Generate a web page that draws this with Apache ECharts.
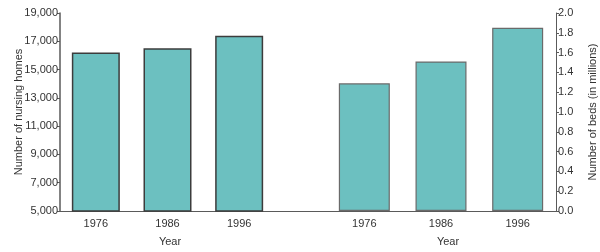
<!DOCTYPE html>
<html>
<head>
<meta charset="utf-8">
<script src="https://cdn.jsdelivr.net/npm/echarts@6/dist/echarts.min.js"></script>
<style>html,body{margin:0;padding:0;background:#fff}#c{width:600px;height:252px}</style>
</head>
<body>
<div id="c"></div>
<script>
var years = ['1976', '1986', '1996'];
var nursingHomes = [16200, 16500, 17400];
var bedsMillions = [1.29, 1.51, 1.85];
var homesTicks = {min: 5000, max: 19000, interval: 2000};
var bedsTicks = {min: 0, max: 2, interval: 0.2};

var FONT = 'Liberation Sans, Arial, sans-serif';
var AXIS = '#5a5a5a';
var FILL = '#6cc0c0';
var TOP = 13, H = 198, L1 = 60, W1 = 215, L2 = 326, W2 = 230;

var chart = echarts.init(document.getElementById('c'), null, {renderer: 'canvas'});
chart.setOption({
  animation: false,
  textStyle: {fontFamily: FONT},
  grid: [
    {left: L1, top: TOP, width: W1, height: H, outerBoundsMode: 'none', containLabel: false},
    {left: L2, top: TOP, width: W2, height: H, outerBoundsMode: 'none', containLabel: false}
  ],
  graphic: [
    {type: 'rect', silent: true, z: 100, left: L1 + W1 - 1, top: TOP + H,
      shape: {width: L2 - L1 - W1 + 2, height: 1},
      style: {fill: AXIS}}
  ],
  xAxis: [
    {gridIndex: 0, type: 'category', data: years,
      axisLine: {show: true, onZero: false, lineStyle: {color: AXIS, width: 1.2}},
      axisTick: {length: 3, lineStyle: {color: AXIS}},
      axisLabel: {color: '#333', fontSize: 11, margin: 7},
      name: 'Year', nameLocation: 'middle', nameGap: 25,
      nameTextStyle: {color: '#333', fontSize: 11, padding: [0, 0, 0, 5]}},
    {gridIndex: 1, type: 'category', data: years,
      axisLine: {show: true, onZero: false, lineStyle: {color: AXIS, width: 1.2}},
      axisTick: {length: 3, lineStyle: {color: AXIS}},
      axisLabel: {color: '#333', fontSize: 11, margin: 7},
      name: 'Year', nameLocation: 'middle', nameGap: 25,
      nameTextStyle: {color: '#333', fontSize: 11, padding: [0, 0, 0, 14]}}
  ],
  yAxis: [
    {gridIndex: 0, type: 'value', min: homesTicks.min, max: homesTicks.max, interval: homesTicks.interval,
      position: 'left',
      axisLine: {show: true, lineStyle: {color: AXIS, width: 1.5}},
      axisTick: {show: true, length: 3, lineStyle: {color: AXIS}},
      splitLine: {show: false},
      axisLabel: {color: '#333', fontSize: 11, margin: 2,
        formatter: function (v) { return v.toLocaleString('en-US'); }},
      name: 'Number of nursing homes', nameLocation: 'middle', nameGap: 36, nameMoveOverlap: false,
      nameTextStyle: {color: '#333', fontSize: 11}},
    {gridIndex: 1, type: 'value', min: bedsTicks.min, max: bedsTicks.max, interval: bedsTicks.interval,
      position: 'right',
      axisLine: {show: true, lineStyle: {color: AXIS, width: 1}},
      axisTick: {show: true, length: 3, lineStyle: {color: AXIS}},
      splitLine: {show: false},
      axisLabel: {color: '#333', fontSize: 11, margin: 2,
        formatter: function (v) { return v.toFixed(1); }},
      name: 'Number of beds (in millions)', nameLocation: 'middle', nameGap: 31, nameMoveOverlap: false,
      nameTextStyle: {color: '#333', fontSize: 11}}
  ],
  series: [
    {type: 'bar', xAxisIndex: 0, yAxisIndex: 0, data: nursingHomes, barWidth: 48,
      itemStyle: {color: FILL, borderColor: '#3c3c3c', borderWidth: 1.5}},
    {type: 'bar', xAxisIndex: 1, yAxisIndex: 1, data: bedsMillions, barWidth: 51,
      itemStyle: {color: FILL, borderColor: '#6a6a6a', borderWidth: 1.2}}
  ]
});
</script>
</body>
</html>
